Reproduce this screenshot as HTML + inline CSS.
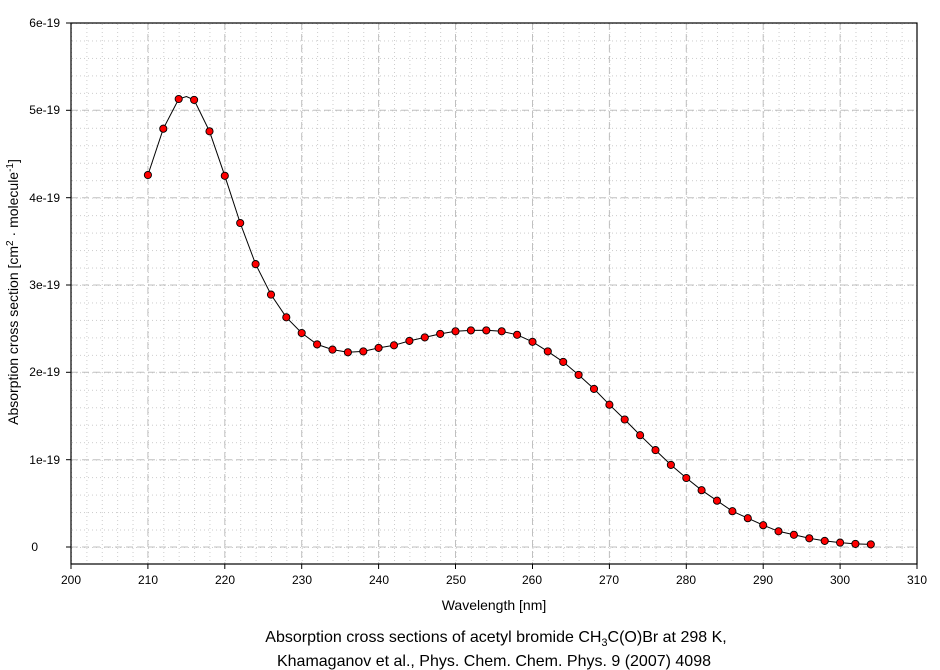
<!DOCTYPE html>
<html><head><meta charset="utf-8"><style>
body{margin:0;background:#fff;}
svg{display:block;font-family:"Liberation Sans",sans-serif;}
</style></head><body>
<svg width="940" height="670" viewBox="0 0 940 670" xmlns="http://www.w3.org/2000/svg">
<defs>
<pattern id="px" patternUnits="userSpaceOnUse" x="71" y="0" width="15.3818" height="670">
<line x1="0.5" y1="0" x2="0.5" y2="670" stroke="#cccccc" stroke-dasharray="1,3"/>
</pattern>
<pattern id="py" patternUnits="userSpaceOnUse" x="0" y="23" width="940" height="17.466">
<line x1="0" y1="0.5" x2="940" y2="0.5" stroke="#cccccc" stroke-dasharray="1,3"/>
</pattern>
</defs>
<rect width="940" height="670" fill="#fff"/>
<rect x="71" y="23" width="846" height="541" fill="url(#px)"/>
<rect x="71" y="23" width="846" height="541" fill="url(#py)"/>
<g stroke="#c0c0c0" stroke-dasharray="7,4" stroke-width="1">
<line x1="147.9" y1="23" x2="147.9" y2="564"/><line x1="224.8" y1="23" x2="224.8" y2="564"/>
<line x1="301.7" y1="23" x2="301.7" y2="564"/><line x1="378.6" y1="23" x2="378.6" y2="564"/>
<line x1="455.5" y1="23" x2="455.5" y2="564"/><line x1="532.5" y1="23" x2="532.5" y2="564"/>
<line x1="609.4" y1="23" x2="609.4" y2="564"/><line x1="686.3" y1="23" x2="686.3" y2="564"/>
<line x1="763.2" y1="23" x2="763.2" y2="564"/><line x1="840.1" y1="23" x2="840.1" y2="564"/>
<line x1="71" y1="547" x2="917" y2="547"/><line x1="71" y1="459.7" x2="917" y2="459.7"/>
<line x1="71" y1="372.3" x2="917" y2="372.3"/><line x1="71" y1="285" x2="917" y2="285"/>
<line x1="71" y1="197.7" x2="917" y2="197.7"/><line x1="71" y1="110.3" x2="917" y2="110.3"/>
</g>
<polyline fill="none" stroke="#000" stroke-width="1" points="147.9,175 163.3,128.7 178.7,99 186.4,96.5 194.1,99.9 209.5,131.3 224.8,175.8 240.2,223 255.6,264.1 271,294.6 286.3,317.3 301.7,333 317.1,344.4 332.5,349.6 347.9,352.3 363.3,351.4 378.6,347.9 394,345.3 409.4,340.9 424.8,337.4 440.2,333.9 455.5,331.3 470.9,330.4 486.3,330.2 501.7,331.3 517.1,334.8 532.5,341.8 547.8,351.4 563.2,361.9 578.6,374.9 594,388.9 609.4,404.7 624.7,419.5 640.1,435.2 655.5,450.1 670.9,464.9 686.3,478 701.6,490.2 717,500.7 732.4,511.2 747.8,518.2 763.2,525.2 778.5,531.3 793.9,534.8 809.3,538.3 824.7,540.9 840.1,542.6 855.4,543.9 870.8,544.4"/>
<rect x="71" y="23" width="846" height="541" fill="none" stroke="#000" stroke-width="1.2"/>
<g stroke="#000" stroke-width="1">
<line x1="66" y1="547" x2="71" y2="547"/><line x1="66" y1="459.7" x2="71" y2="459.7"/><line x1="66" y1="372.3" x2="71" y2="372.3"/>
<line x1="66" y1="285" x2="71" y2="285"/><line x1="66" y1="197.7" x2="71" y2="197.7"/><line x1="66" y1="110.3" x2="71" y2="110.3"/><line x1="66" y1="23" x2="71" y2="23"/>
<line x1="71" y1="564" x2="71" y2="569"/><line x1="147.9" y1="564" x2="147.9" y2="569"/><line x1="224.8" y1="564" x2="224.8" y2="569"/>
<line x1="301.7" y1="564" x2="301.7" y2="569"/><line x1="378.6" y1="564" x2="378.6" y2="569"/><line x1="455.5" y1="564" x2="455.5" y2="569"/>
<line x1="532.5" y1="564" x2="532.5" y2="569"/><line x1="609.4" y1="564" x2="609.4" y2="569"/><line x1="686.3" y1="564" x2="686.3" y2="569"/>
<line x1="763.2" y1="564" x2="763.2" y2="569"/><line x1="840.1" y1="564" x2="840.1" y2="569"/><line x1="917" y1="564" x2="917" y2="569"/>
</g>
<g fill="#f00" stroke="#000" stroke-width="0.9">
<circle cx="147.9" cy="175" r="3.6"/><circle cx="163.3" cy="128.7" r="3.6"/><circle cx="178.7" cy="99" r="3.6"/><circle cx="194.1" cy="99.9" r="3.6"/>
<circle cx="209.5" cy="131.3" r="3.6"/><circle cx="224.8" cy="175.8" r="3.6"/><circle cx="240.2" cy="223" r="3.6"/><circle cx="255.6" cy="264.1" r="3.6"/>
<circle cx="271" cy="294.6" r="3.6"/><circle cx="286.3" cy="317.3" r="3.6"/><circle cx="301.7" cy="333" r="3.6"/><circle cx="317.1" cy="344.4" r="3.6"/>
<circle cx="332.5" cy="349.6" r="3.6"/><circle cx="347.9" cy="352.3" r="3.6"/><circle cx="363.3" cy="351.4" r="3.6"/><circle cx="378.6" cy="347.9" r="3.6"/>
<circle cx="394" cy="345.3" r="3.6"/><circle cx="409.4" cy="340.9" r="3.6"/><circle cx="424.8" cy="337.4" r="3.6"/><circle cx="440.2" cy="333.9" r="3.6"/>
<circle cx="455.5" cy="331.3" r="3.6"/><circle cx="470.9" cy="330.4" r="3.6"/><circle cx="486.3" cy="330.4" r="3.6"/><circle cx="501.7" cy="331.3" r="3.6"/>
<circle cx="517.1" cy="334.8" r="3.6"/><circle cx="532.5" cy="341.8" r="3.6"/><circle cx="547.8" cy="351.4" r="3.6"/><circle cx="563.2" cy="361.9" r="3.6"/>
<circle cx="578.6" cy="374.9" r="3.6"/><circle cx="594" cy="388.9" r="3.6"/><circle cx="609.4" cy="404.7" r="3.6"/><circle cx="624.7" cy="419.5" r="3.6"/>
<circle cx="640.1" cy="435.2" r="3.6"/><circle cx="655.5" cy="450.1" r="3.6"/><circle cx="670.9" cy="464.9" r="3.6"/><circle cx="686.3" cy="478" r="3.6"/>
<circle cx="701.6" cy="490.2" r="3.6"/><circle cx="717" cy="500.7" r="3.6"/><circle cx="732.4" cy="511.2" r="3.6"/><circle cx="747.8" cy="518.2" r="3.6"/>
<circle cx="763.2" cy="525.2" r="3.6"/><circle cx="778.5" cy="531.3" r="3.6"/><circle cx="793.9" cy="534.8" r="3.6"/><circle cx="809.3" cy="538.3" r="3.6"/>
<circle cx="824.7" cy="540.9" r="3.6"/><circle cx="840.1" cy="542.6" r="3.6"/><circle cx="855.4" cy="543.9" r="3.6"/><circle cx="870.8" cy="544.4" r="3.6"/>
</g>
<g font-size="12" fill="#000" text-anchor="end">
<text x="38" y="551">0</text>
<text x="60" y="464">1e-19</text>
<text x="60" y="376">2e-19</text>
<text x="60" y="289">3e-19</text>
<text x="60" y="202">4e-19</text>
<text x="60" y="114">5e-19</text>
<text x="60" y="27">6e-19</text>
</g>
<g font-size="12" fill="#000" text-anchor="middle">
<text x="71" y="584">200</text><text x="148" y="584">210</text><text x="225" y="584">220</text>
<text x="302" y="584">230</text><text x="379" y="584">240</text><text x="456" y="584">250</text>
<text x="532" y="584">260</text><text x="609" y="584">270</text><text x="686" y="584">280</text>
<text x="763" y="584">290</text><text x="840" y="584">300</text><text x="917" y="584">310</text>
<text x="494" y="610" font-size="14">Wavelength [nm]</text>
<text x="496" y="642" font-size="16">Absorption cross sections of acetyl bromide CH<tspan font-size="11" dy="4">3</tspan><tspan dy="-4">C(O)Br at 298 K,</tspan></text>
<text x="494" y="666" font-size="16">Khamaganov et al., Phys. Chem. Chem. Phys. 9 (2007) 4098</text>
</g>
<text transform="translate(18,292) rotate(-90)" font-size="14" text-anchor="middle">Absorption cross section [cm<tspan font-size="10" dy="-5">2</tspan><tspan dy="5"> · molecule</tspan><tspan font-size="10" dy="-5">-1</tspan><tspan dy="5">]</tspan></text>
</svg>
</body></html>
